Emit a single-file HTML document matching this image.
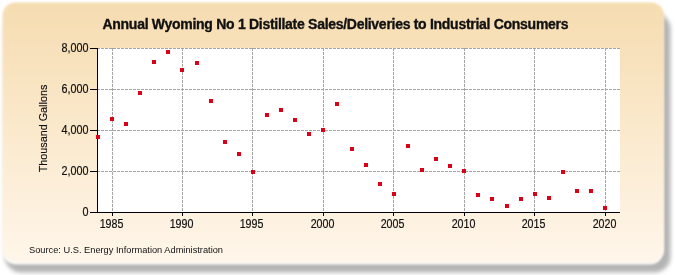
<!DOCTYPE html>
<html><head><meta charset="utf-8"><style>
html,body{margin:0;padding:0;background:#fff;width:675px;height:275px;overflow:hidden}
svg{display:block;will-change:transform}
text{font-family:"Liberation Sans",sans-serif}
</style></head><body>
<svg width="675" height="275" viewBox="0 0 675 275">
<defs>
<linearGradient id="bg" x1="0" y1="0" x2="0" y2="1">
<stop offset="0" stop-color="#F6DCB0"/>
<stop offset="1" stop-color="#FFF6EA"/>
</linearGradient>
<linearGradient id="hl" x1="0" y1="0" x2="0" y2="1"><stop offset="0" stop-color="#fff" stop-opacity="0.85"/><stop offset="0.3" stop-color="#fff" stop-opacity="0.75"/><stop offset="1" stop-color="#fff" stop-opacity="0"/></linearGradient>
<filter id="sh" x="-5%" y="-5%" width="110%" height="110%"><feGaussianBlur stdDeviation="2.0"/></filter>
<filter id="hb" x="-5%" y="-5%" width="110%" height="110%"><feGaussianBlur stdDeviation="1.2"/></filter>
<filter id="pb" x="-5%" y="-5%" width="110%" height="110%"><feGaussianBlur stdDeviation="0.9"/></filter>
</defs>
<rect x="5" y="13" width="665.5" height="259.5" rx="16" fill="#b4b4b4" filter="url(#sh)"/>
<rect x="3" y="4" width="660" height="260.5" rx="13" fill="#fff" fill-opacity="0.9" filter="url(#hb)"/>
<rect x="2.5" y="2.5" width="661.5" height="259.5" rx="13" fill="url(#bg)" filter="url(#pb)"/>
<rect x="97" y="48" width="523" height="164" fill="#fff"/>
<g stroke="#a4a4a4" stroke-width="1" stroke-dasharray="3,1" fill="none">
<line x1="97" y1="48.5" x2="620" y2="48.5"/><line x1="97" y1="89.5" x2="620" y2="89.5"/><line x1="97" y1="130.5" x2="620" y2="130.5"/><line x1="97" y1="171.5" x2="620" y2="171.5"/><line x1="112.5" y1="48" x2="112.5" y2="212"/><line x1="182.5" y1="48" x2="182.5" y2="212"/><line x1="252.5" y1="48" x2="252.5" y2="212"/><line x1="323.5" y1="48" x2="323.5" y2="212"/><line x1="393.5" y1="48" x2="393.5" y2="212"/><line x1="464.5" y1="48" x2="464.5" y2="212"/><line x1="534.5" y1="48" x2="534.5" y2="212"/><line x1="605.5" y1="48" x2="605.5" y2="212"/>
</g>
<g stroke="#000" stroke-width="1" fill="none">
<line x1="97.5" y1="48" x2="97.5" y2="212.5"/>
<line x1="90" y1="212.5" x2="620" y2="212.5"/>
<line x1="90" y1="48.5" x2="97" y2="48.5"/><line x1="90" y1="89.5" x2="97" y2="89.5"/><line x1="90" y1="130.5" x2="97" y2="130.5"/><line x1="90" y1="171.5" x2="97" y2="171.5"/><line x1="90" y1="212.5" x2="97" y2="212.5"/>
<line x1="112.5" y1="212" x2="112.5" y2="216"/><line x1="182.5" y1="212" x2="182.5" y2="216"/><line x1="252.5" y1="212" x2="252.5" y2="216"/><line x1="323.5" y1="212" x2="323.5" y2="216"/><line x1="393.5" y1="212" x2="393.5" y2="216"/><line x1="464.5" y1="212" x2="464.5" y2="216"/><line x1="534.5" y1="212" x2="534.5" y2="216"/><line x1="605.5" y1="212" x2="605.5" y2="216"/>
</g>
<g fill="#DA0018">
<rect x="96" y="135" width="4" height="4"/><rect x="110" y="117" width="4" height="4"/><rect x="124" y="122" width="4" height="4"/><rect x="138" y="91" width="4" height="4"/><rect x="152" y="60" width="4" height="4"/><rect x="166" y="50" width="4" height="4"/><rect x="180" y="68" width="4" height="4"/><rect x="195" y="61" width="4" height="4"/><rect x="209" y="99" width="4" height="4"/><rect x="223" y="140" width="4" height="4"/><rect x="237" y="152" width="4" height="4"/><rect x="251" y="170" width="4" height="4"/><rect x="265" y="113" width="4" height="4"/><rect x="279" y="108" width="4" height="4"/><rect x="293" y="118" width="4" height="4"/><rect x="307" y="132" width="4" height="4"/><rect x="321" y="128" width="4" height="4"/><rect x="335" y="102" width="4" height="4"/><rect x="350" y="147" width="4" height="4"/><rect x="364" y="163" width="4" height="4"/><rect x="378" y="182" width="4" height="4"/><rect x="392" y="192" width="4" height="4"/><rect x="406" y="144" width="4" height="4"/><rect x="420" y="168" width="4" height="4"/><rect x="434" y="157" width="4" height="4"/><rect x="448" y="164" width="4" height="4"/><rect x="462" y="169" width="4" height="4"/><rect x="476" y="193" width="4" height="4"/><rect x="490" y="197" width="4" height="4"/><rect x="505" y="204" width="4" height="4"/><rect x="519" y="197" width="4" height="4"/><rect x="533" y="192" width="4" height="4"/><rect x="547" y="196" width="4" height="4"/><rect x="561" y="170" width="4" height="4"/><rect x="575" y="189" width="4" height="4"/><rect x="589" y="189" width="4" height="4"/><rect x="603" y="206" width="4" height="4"/>
</g>
<g font-size="12" fill="#111" stroke="#111" stroke-width="0.2">
<text transform="translate(88.4,51.8) scale(0.9,1)" text-anchor="end">8,000</text><text transform="translate(88.4,92.8) scale(0.9,1)" text-anchor="end">6,000</text><text transform="translate(88.4,133.8) scale(0.9,1)" text-anchor="end">4,000</text><text transform="translate(88.4,174.8) scale(0.9,1)" text-anchor="end">2,000</text><text transform="translate(88.4,215.8) scale(0.9,1)" text-anchor="end">0</text>
<text transform="translate(111.5,228) scale(0.89,1)" text-anchor="middle">1985</text><text transform="translate(181.5,228) scale(0.89,1)" text-anchor="middle">1990</text><text transform="translate(251.5,228) scale(0.89,1)" text-anchor="middle">1995</text><text transform="translate(322.5,228) scale(0.89,1)" text-anchor="middle">2000</text><text transform="translate(392.5,228) scale(0.89,1)" text-anchor="middle">2005</text><text transform="translate(463.5,228) scale(0.89,1)" text-anchor="middle">2010</text><text transform="translate(533.5,228) scale(0.89,1)" text-anchor="middle">2015</text><text transform="translate(604.5,228) scale(0.89,1)" text-anchor="middle">2020</text>
</g>
<text x="335.5" y="29" text-anchor="middle" font-size="14" font-weight="bold" fill="#111" textLength="466" lengthAdjust="spacing" stroke="#111" stroke-width="0.35">Annual Wyoming No 1 Distillate Sales/Deliveries to Industrial Consumers</text>
<text transform="translate(46.5,128.5) rotate(-90) scale(0.983,1)" text-anchor="middle" font-size="11" fill="#111" stroke="#111" stroke-width="0.15">Thousand Gallons</text>
<text x="29" y="253" font-size="9.5" fill="#111" textLength="194" lengthAdjust="spacingAndGlyphs">Source: U.S. Energy Information Administration</text>
</svg>
</body></html>
